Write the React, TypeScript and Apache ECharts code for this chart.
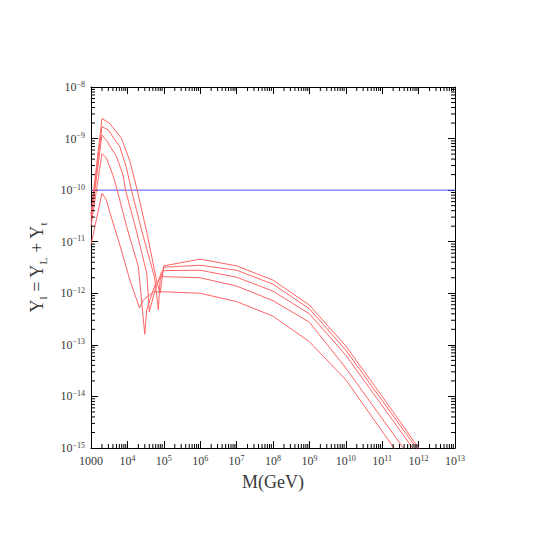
import React, { useEffect, useRef } from "react";
import * as echarts from "echarts";

// Curve data: [M (GeV), Y] pairs, top curve (A) to bottom (E)
const lowA: [number, number][] = [
  [1000, 3.5e-11], [2000, 2.45e-9], [3200, 2.0e-9], [6800, 1.02e-9], [1.15e4, 3.8e-10],
  [1.86e4, 1.0e-10], [3.5e4, 1.4e-11], [6.3e4, 1.8e-12], [7.9e4, 1.0e-12],
];
const lowB: [number, number][] = [
  [1000, 3.2e-11], [2000, 1.7e-9], [2950, 1.48e-9], [6200, 6.9e-10], [9300, 2.8e-10],
  [1.29e4, 1.0e-10], [2.5e4, 1.6e-11], [5.6e4, 2.0e-12], [7.1e4, 4.8e-13], [7.9e4, 1.8e-12],
];
const lowC: [number, number][] = [
  [1000, 2.6e-11], [2000, 1.17e-9], [2630, 9.3e-10], [5000, 4.5e-10], [7600, 1.95e-10],
  [8900, 1.0e-10], [1.78e4, 1.6e-11], [3.4e4, 2.45e-12], [4.0e4, 4.4e-13], [5.75e4, 1.15e-12],
  [8.7e4, 2.6e-12],
];
const lowD: [number, number][] = [
  [1000, 2.0e-11], [2000, 5.1e-10], [2630, 4.2e-10], [4000, 1.95e-10], [5250, 1.0e-10],
  [9550, 1.95e-11], [2.0e4, 3.3e-12], [3.0e4, 1.6e-13], [3.4e4, 4.8e-13], [5.75e4, 1.45e-12],
  [8.7e4, 2.1e-12],
];
const lowE: [number, number][] = [
  [1000, 8.7e-12], [2000, 8.7e-11], [2630, 6.5e-11], [3300, 3.7e-11], [6300, 8.3e-12],
  [1.17e4, 1.8e-12], [2.15e4, 5.2e-13], [2.75e4, 7.4e-13], [5.2e4, 1.07e-12],
];

const tailMass = [1e5, 1e6, 1e7, 1e8, 1e9, 1e10, 1e11, 1e12, 1e13];
const tailA = [3.4e-12, 4.6e-12, 3.4e-12, 1.8e-12, 5.9e-13, 9.5e-14, 1.0e-14, 1.0e-15, 1.0e-16];
const tailB = [3.2e-12, 3.5e-12, 2.8e-12, 1.5e-12, 5.0e-13, 7.9e-14, 8.3e-15, 8.7e-16, 9.1e-17];
const tailC = [2.75e-12, 2.8e-12, 2.05e-12, 1.1e-12, 4.0e-13, 6.3e-14, 6.6e-15, 6.9e-16, 7.2e-17];
const tailD = [2.1e-12, 2.0e-12, 1.38e-12, 7.2e-13, 2.75e-13, 3.55e-14, 3.7e-15, 3.9e-16, 4.1e-17];
const tailE = [1.07e-12, 1.0e-12, 6.9e-13, 3.6e-13, 1.15e-13, 2.1e-14, 2.1e-15, 2.1e-16, 2.1e-17];

const blueLevel = 1e-10;
const xMin = 1000;
const xMax = 1e13;
const yMin = 1e-15;
const yMax = 1e-8;
const xDecades = [3, 4, 5, 6, 7, 8, 9, 10, 11, 12];
const yDecades = [-15, -14, -13, -12, -11, -10, -9];
const minorMultipliers = [2, 3, 4, 5, 6, 7, 8, 9];

const FONT = "Liberation Serif";
const TEXT = "#3a3a3a";

const powLabel = (v: number, special1000: boolean) => {
  const e = Math.round(Math.log10(v));
  if (special1000 && e === 3) return "{b|1000}";
  return "{b|10}{s|" + String(e).replace("-", "−") + "}";
};

const labelRich = {
  b: { fontFamily: FONT, fontSize: 12, color: TEXT, lineHeight: 14, verticalAlign: "middle" },
  s: { fontFamily: FONT, fontSize: 8, color: TEXT, lineHeight: 8, verticalAlign: "top" },
};

export default function App() {
  const ref = useRef<HTMLDivElement>(null);
  useEffect(() => {
    document.body.style.margin = "0";
    if (!ref.current) return;
    const chart = echarts.init(ref.current, undefined, { renderer: "svg" });

    const curves = [
      [lowA, tailA],
      [lowB, tailB],
      [lowC, tailC],
      [lowD, tailD],
      [lowE, tailE],
    ] as [[number, number][], number[]][];

    const redSeries = curves.map(([low, tail], i) => ({
      type: "line",
      name: "curve" + i,
      data: [...low, ...tailMass.map((m, k) => [m, tail[k]])],
      showSymbol: false,
      symbol: "none",
      lineStyle: { color: "#ff6464", width: 1 },
      clip: true,
      z: 3,
    }));

    const minorData: number[][] = [];
    xDecades.forEach((d) =>
      minorMultipliers.forEach((m) => minorData.push([m * Math.pow(10, d), yMin, 0]))
    );
    yDecades.forEach((d) =>
      minorMultipliers.forEach((m) => minorData.push([xMin, m * Math.pow(10, d), 1]))
    );

    const tickStyle = { color: "#000", width: 1 };
    const axisLine = { show: true, lineStyle: { color: "#000", width: 1 } };
    const majorTick = { show: true, inside: true, length: 7, lineStyle: tickStyle };

    const option: any = {
      animation: false,
      grid: { left: 91, right: 85, top: 87, bottom: 92 },
      xAxis: [
        {
          type: "log",
          logBase: 10,
          min: xMin,
          max: xMax,
          interval: 1,
          position: "bottom",
          axisLine,
          axisTick: majorTick,
          axisLabel: {
            margin: 6,
            rich: labelRich,
            formatter: (v: number) => powLabel(v, true),
          },
          splitLine: { show: false },
          name: "M(GeV)",
          nameLocation: "middle",
          nameGap: 25,
          nameTextStyle: { fontFamily: FONT, fontSize: 18, color: TEXT },
        },
        {
          type: "log",
          logBase: 10,
          min: xMin,
          max: xMax,
          interval: 1,
          position: "top",
          axisLine,
          axisTick: majorTick,
          axisLabel: { show: false },
          splitLine: { show: false },
        },
      ],
      yAxis: [
        {
          type: "log",
          logBase: 10,
          min: yMin,
          max: yMax,
          interval: 1,
          position: "left",
          axisLine,
          axisTick: majorTick,
          axisLabel: {
            margin: 6,
            rich: labelRich,
            formatter: (v: number) => powLabel(v, false),
          },
          splitLine: { show: false },
          name: "{b|Y}{s|l}{b| = Y}{s|L}{b| + Y}{s|t}",
          nameLocation: "middle",
          nameGap: 43,
          nameRotate: 90,
          nameTextStyle: {
            rich: {
              b: { fontFamily: FONT, fontSize: 18, color: TEXT, lineHeight: 22, verticalAlign: "middle" },
              s: { fontFamily: FONT, fontSize: 11, color: TEXT, lineHeight: 10, verticalAlign: "bottom" },
            },
          },
        },
        {
          type: "log",
          logBase: 10,
          min: yMin,
          max: yMax,
          interval: 1,
          position: "right",
          axisLine,
          axisTick: majorTick,
          axisLabel: { show: false },
          splitLine: { show: false },
        },
      ],
      series: [
        ...redSeries,
        {
          type: "line",
          name: "blue",
          data: [[xMin, blueLevel], [xMax, blueLevel]],
          showSymbol: false,
          symbol: "none",
          lineStyle: { color: "#5050ff", width: 1 },
          z: 2,
        },
        {
          type: "custom",
          name: "minorTicks",
          clip: false,
          silent: true,
          encode: { x: 0, y: 1 },
          data: minorData,
          renderItem: (_params: any, api: any) => {
            const v0 = api.value(0);
            const v1 = api.value(1);
            const kind = api.value(2);
            const len = 4;
            const style = { stroke: "#000", lineWidth: 1 };
            if (kind === 0) {
              const x = api.coord([v0, yMin])[0];
              const yb = api.coord([v0, yMin])[1];
              const yt = api.coord([v0, yMax])[1];
              return {
                type: "group",
                children: [
                  { type: "line", shape: { x1: x, y1: yb, x2: x, y2: yb - len }, style },
                  { type: "line", shape: { x1: x, y1: yt, x2: x, y2: yt + len }, style },
                ],
              };
            }
            const y = api.coord([xMin, v1])[1];
            const xl = api.coord([xMin, v1])[0];
            const xr = api.coord([xMax, v1])[0];
            return {
              type: "group",
              children: [
                { type: "line", shape: { x1: xl, y1: y, x2: xl + len, y2: y }, style },
                { type: "line", shape: { x1: xr, y1: y, x2: xr - len, y2: y }, style },
              ],
            };
          },
          z: 4,
        },
      ],
    };

    chart.setOption(option);
    return () => chart.dispose();
  }, []);

  return <div ref={ref} style={{ width: 540, height: 540 }} />;
}
